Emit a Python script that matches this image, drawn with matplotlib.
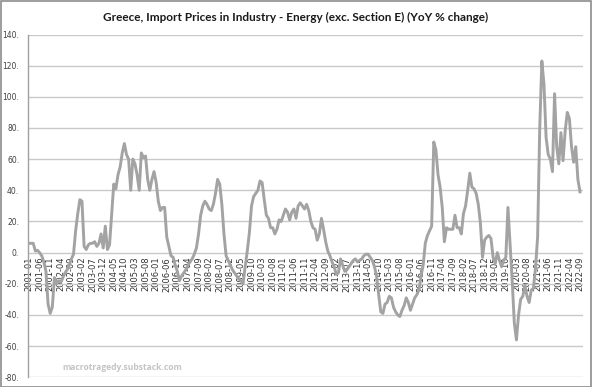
import matplotlib
matplotlib.use("Agg")
import matplotlib.pyplot as plt
import numpy as np
import pandas as pd

title = "Greece, Import Prices in Industry - Energy (exc. Section E) (YoY % change)"
watermark = "macrotragedy.substack.com"

start_month = "2001-01"
values = [
    6, 6, 6, 1, 1.5, 0, -2, -6, -12, -33,
    -39, -35, -16, -20, -18, -19, -16, -13, -11, -8,
    -4, -1, 14, 25, 34, 33, 4, 2, 5, 6,
    6, 7, 4, 6, 12, 3, 17, 2, 5, 25,
    44, 41, 50, 55, 64, 70, 63, 60, 40, 60,
    57, 50, 40, 64, 61, 62, 47, 40, 47, 52,
    45, 33, 27, 29, 29, 10, 4, -2, -3, -8,
    -12, -18, -15, -13, -11, -8, -6, -4, -1, 3,
    12, 24, 30, 33, 31, 28, 27, 31, 38, 47,
    44, 31, 12, -2, -5, -8, -11, -13, -15, -17,
    -18, -20, -9, 1, 13, 30, 36, 38, 40, 46,
    45, 34, 24, 22, 16, 16, 12, 15, 21, 20,
    24, 28, 26, 21, 26, 28, 22, 30, 32, 30,
    28, 31, 27, 20, 16, 15, 8, 12, 22, 15,
    7, 1, -2, -6, -9, -14, -13, -4, -8, -12,
    -11, -9, -7, -5, -4, -6, -5, -4, -2, -1,
    -1, -3, -5, -9, -15, -27, -38, -39, -33, -32,
    -28, -29, -35, -38, -40, -41, -37, -34, -29, -32,
    -37, -33, -29, -27, -24, -15, -8, 6, 11, 14,
    17, 71, 66, 50, 42, 29, 7, 16, 15, 15,
    15, 24, 16, 16, 12, 25, 30, 40, 51, 42,
    41, 38, 31, 19, -3, 8, 10, 11, 9, -3,
    -7, 0, -5, -9, -5, -3, 29, 6, -18, -45,
    -56, -40, -30, -28, -21, -28, -32, -24, -23, -10,
    10, 80, 123, 108, 74, 63, 60, 52, 102, 68,
    57, 77, 59, 78, 90, 86, 68, 58, 68, 47,
    39,
]
y_ticks = [-80, -60, -40, -20, 0, 20, 40, 60, 80, 100, 120, 140]
tick_step = 5

months = pd.period_range(start=start_month, periods=len(values), freq="M")
labels = [m.strftime("%Y-%m") for m in months]
x = np.arange(len(values))

W, H = 592, 387
fig = plt.figure(figsize=(W / 100, H / 100), dpi=100)
fig.patch.set_facecolor("white")

# outer frame
fig.add_artist(plt.Rectangle((0.5 / W, 0.5 / H), 1 - 1.5 / W, 1 - 1.5 / H,
                             transform=fig.transFigure, fill=False,
                             edgecolor="#8c8c8c", linewidth=1.2))

ax_left, ax_right = 27.5, 582.5
ax_top, ax_bot = 34.5, 377.3
ax = fig.add_axes([ax_left / W, (H - ax_bot) / H, (ax_right - ax_left) / W, (ax_bot - ax_top) / H])

ax.spines["bottom"].set_position(("data", 0))
ax.spines["bottom"].set_visible(False)
ax.spines["top"].set_visible(False)
ax.spines["right"].set_visible(False)
ax.spines["left"].set_color("#a0a0a0")
ax.spines["left"].set_linewidth(1.0)

ax.plot(x, values, color="#a3a3a3", linewidth=2.1, solid_joinstyle="round", zorder=3)

ax.set_ylim(-80, 140)
ax.set_xlim(-0.71, len(values) - 1 + 1.18)
ax.set_yticks(y_ticks)
ax.set_yticklabels([f"{v}." for v in y_ticks])
ax.yaxis.grid(True, color="#c9c9c9", linewidth=1.0)
ax.set_axisbelow(True)

tick_pos = x[::tick_step]
ax.set_xticks(tick_pos)
ax.set_xticklabels([labels[i] for i in tick_pos])
ax.tick_params(axis="x", length=0, pad=3, labelrotation=90, labelsize=6, labelcolor="#333333")
ax.tick_params(axis="y", length=0, pad=6, labelsize=5.5, labelcolor="#404040")
for lab in ax.get_xticklabels() + ax.get_yticklabels():
    lab.set_family(["Liberation Sans Narrow", "DejaVu Sans"])
    lab.set_zorder(5)

# title fitted to reference width
t = fig.text(0.5, 1 - 17 / H, title, ha="center", va="center", fontsize=10.5,
             family=["Lato", "DejaVu Sans"], fontweight="bold", color="#1a1a1a")
fig.canvas.draw()
bb = t.get_window_extent()
t.set_fontsize(10.5 * 386 / bb.width)

wm = fig.text(122 / W, 1 - 367 / H, watermark, ha="center", va="center", fontsize=8,
              family=["Open Sans", "DejaVu Sans"], fontweight="bold", color="#c4c4c4")
fig.canvas.draw()
bb = wm.get_window_extent()
wm.set_fontsize(8 * 121 / bb.width)

fig.savefig("out.png", dpi=100)
